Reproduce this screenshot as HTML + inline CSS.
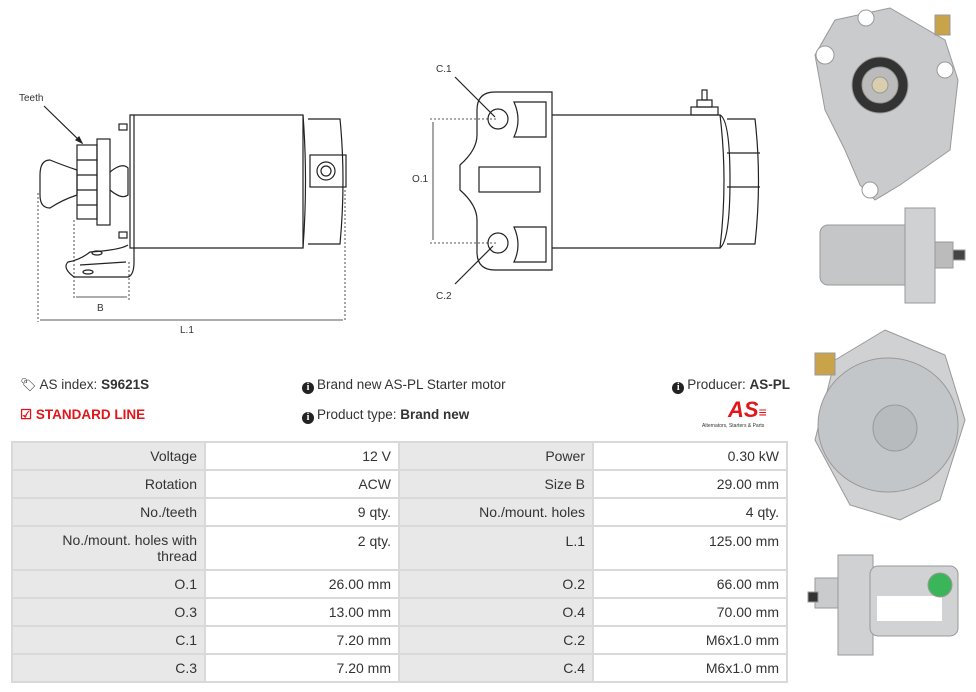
<!DOCTYPE html>
<html><head><meta charset="utf-8"><style>
body{margin:0;width:976px;height:692px;background:#fff;font-family:"Liberation Sans",sans-serif;position:relative;overflow:hidden;color:#333}
.t{position:absolute;font-size:13.5px;white-space:nowrap}
.i{display:inline-block;width:12px;height:12px;border-radius:50%;background:#222;color:#fff;font-size:10px;font-weight:bold;text-align:center;line-height:12px;font-family:"Liberation Serif",serif;vertical-align:-1px;margin-right:3px}
table{position:absolute;left:11px;top:441px;border-collapse:collapse;font-size:14px}
td{border:2px solid #d9d9d9;text-align:right;padding:0 7px;vertical-align:middle;height:24px;color:#333}
td.l{background:#e8e8e8}
td.v{background:#fff}
</style></head><body>
<svg width="976" height="692" style="position:absolute;left:0;top:0" fill="none" stroke="#222" stroke-width="1.2" font-family="Liberation Sans,sans-serif">
<text x="19" y="101" font-size="10" fill="#333" stroke="none">Teeth</text>
<line x1="44" y1="106" x2="82" y2="143"/><polygon points="82,143 76,140 79,137" fill="#222"/>
<path d="M130,115 H303 V248 H130 Z"/>
<path d="M303,115 Q308,180 303,248"/>
<path d="M308,119 H340 Q346,180 340,244 H308"/>
<rect x="310" y="155" width="36" height="32"/>
<circle cx="326" cy="171" r="9"/><circle cx="326" cy="171" r="5"/>
<rect x="97" y="139" width="13" height="86"/>
<rect x="77" y="145" width="20" height="74"/>
<line x1="77" y1="160" x2="97" y2="160"/><line x1="77" y1="175" x2="97" y2="175"/><line x1="77" y1="190" x2="97" y2="190"/><line x1="77" y1="205" x2="97" y2="205"/>
<path d="M40,175 Q40,160 50,160 Q62,165 77,170 V195 Q62,200 50,208 Q40,208 40,195 Z"/>
<path d="M110,172 Q122,162 128,168 V195 Q122,200 110,190"/>
<rect x="119" y="124" width="8" height="6"/><rect x="119" y="232" width="8" height="6"/>
<path d="M128,245 Q120,250 90,252 Q80,260 68,262 Q62,268 74,277 H128 Q134,275 134,262 V115"/>
<ellipse cx="97" cy="253" rx="5" ry="2"/><ellipse cx="88" cy="272" rx="5" ry="2"/>
<line x1="80" y1="265" x2="126" y2="262"/>
<g stroke-dasharray="2,2" stroke-width="0.8"><line x1="38" y1="193" x2="38" y2="322"/><line x1="74" y1="220" x2="74" y2="300"/><line x1="129" y1="262" x2="129" y2="300"/><line x1="345" y1="190" x2="345" y2="322"/></g>
<line x1="76" y1="297" x2="127" y2="297" stroke-width="0.8"/>
<line x1="40" y1="320" x2="343" y2="320" stroke-width="0.8"/>
<text x="97" y="311" font-size="10" fill="#333" stroke="none">B</text>
<text x="180" y="333" font-size="10" fill="#333" stroke="none">L.1</text>
<text x="436" y="72" font-size="10" fill="#333" stroke="none">C.1</text>
<text x="436" y="299" font-size="10" fill="#333" stroke="none">C.2</text>
<text x="412" y="182" font-size="10" fill="#333" stroke="none">O.1</text>
<line x1="455" y1="77" x2="495" y2="117"/><line x1="455" y1="284" x2="493" y2="246"/>
<path d="M495,92 H552 V270 H495 Q477,270 477,252 V220 Q477,205 460,190 V165 Q477,150 477,135 V110 Q477,92 495,92 Z"/>
<circle cx="498" cy="119" r="10"/><circle cx="498" cy="243" r="10"/>
<path d="M514,102 H546 V137 H514 Q522,120 514,102 Z"/>
<path d="M514,227 H546 V262 H514 Q522,245 514,227 Z"/>
<rect x="479" y="167" width="61" height="25"/>
<path d="M552,115 H720 Q728,180 720,248 H552"/>
<path d="M720,115 Q730,120 730,180 Q730,240 720,248"/>
<path d="M727,119 H755 Q762,180 755,244 H727"/>
<line x1="727" y1="153" x2="760" y2="153"/><line x1="727" y1="187" x2="760" y2="187"/>
<rect x="691" y="107" width="27" height="8"/><rect x="697" y="100" width="15" height="7"/><rect x="702" y="90" width="5" height="10"/>
<g stroke-dasharray="2,2" stroke-width="0.8"><line x1="430" y1="119" x2="497" y2="119"/><line x1="430" y1="243" x2="497" y2="243"/></g>
<line x1="433" y1="122" x2="433" y2="240" stroke-width="0.8"/>
<g stroke="#999" stroke-width="1">
<path d="M835,20 L890,8 L945,40 L958,80 L950,150 L900,185 L875,200 L860,185 L845,150 L825,110 L815,55 Z" fill="#c9cbcd"/>
<circle cx="825" cy="55" r="9" fill="#fff"/><circle cx="866" cy="18" r="8" fill="#fff"/><circle cx="945" cy="70" r="8" fill="#fff"/><circle cx="870" cy="190" r="8" fill="#fff"/>
<circle cx="880" cy="85" r="28" fill="#333"/><circle cx="880" cy="85" r="18" fill="#bbb"/><circle cx="880" cy="85" r="8" fill="#d9cfae"/>
<rect x="935" y="15" width="15" height="20" fill="#c9a34a"/>
<rect x="820" y="225" width="95" height="60" rx="8" fill="#c4c6c8"/>
<rect x="905" y="208" width="30" height="95" fill="#cfd1d3"/>
<rect x="935" y="242" width="18" height="26" fill="#bbb"/><rect x="953" y="250" width="12" height="10" fill="#444"/>
<path d="M835,360 L885,330 L945,355 L965,420 L940,500 L900,520 L850,505 L815,440 Z" fill="#cfd1d3"/>
<ellipse cx="888" cy="425" rx="70" ry="67" fill="#c3c6c9"/><ellipse cx="895" cy="428" rx="22" ry="23" fill="#b8bbbe"/>
<rect x="815" y="353" width="20" height="22" fill="#c9a34a"/>
<rect x="815" y="578" width="25" height="30" fill="#c9cbcd"/>
<rect x="838" y="555" width="35" height="100" fill="#cfd1d3"/>
<rect x="870" y="566" width="88" height="70" rx="8" fill="#d0d2d4"/>
<rect x="877" y="596" width="65" height="25" fill="#fff" stroke="none"/>
<circle cx="940" cy="585" r="12" fill="#3bb55a"/>
<rect x="808" y="592" width="10" height="10" fill="#333"/>
</g>
</svg>
<div class="t" style="left:20px;top:377px"><span style="font-size:13px">&#x1F3F7;&#xFE0E;</span> AS index: <b>S9621S</b></div>
<div class="t" style="left:20px;top:407px;color:#e3151a;font-weight:bold">&#9745; STANDARD LINE</div>
<div class="t" style="left:302px;top:377px"><span class="i">i</span>Brand new AS-PL Starter motor</div>
<div class="t" style="left:302px;top:407px"><span class="i">i</span>Product type: <b>Brand new</b></div>
<div class="t" style="right:186px;top:377px"><span class="i">i</span>Producer: <b>AS-PL</b></div>
<div class="t" style="left:728px;top:397px;color:#e3151a;font-weight:bold;font-style:italic;font-size:22px">AS<span style="font-size:14px">&#8801;</span></div>
<div class="t" style="left:702px;top:423px;font-size:5px">Alternators, Starters &amp; Parts</div>
<table>
<tr style="height:28px"><td class="l" style="width:177px">Voltage</td><td class="v" style="width:178px">12 V</td><td class="l" style="width:178px">Power</td><td class="v" style="width:178px">0.30 kW</td></tr>
<tr style="height:28px"><td class="l">Rotation</td><td class="v">ACW</td><td class="l">Size B</td><td class="v">29.00 mm</td></tr>
<tr style="height:28px"><td class="l">No./teeth</td><td class="v">9 qty.</td><td class="l">No./mount. holes</td><td class="v">4 qty.</td></tr>
<tr style="height:44px"><td class="l">No./mount. holes with<br>thread</td><td class="v" style="vertical-align:top;padding-top:6px">2 qty.</td><td class="l" style="vertical-align:top;padding-top:6px">L.1</td><td class="v" style="vertical-align:top;padding-top:6px">125.00 mm</td></tr>
<tr style="height:28px"><td class="l">O.1</td><td class="v">26.00 mm</td><td class="l">O.2</td><td class="v">66.00 mm</td></tr>
<tr style="height:28px"><td class="l">O.3</td><td class="v">13.00 mm</td><td class="l">O.4</td><td class="v">70.00 mm</td></tr>
<tr style="height:28px"><td class="l">C.1</td><td class="v">7.20 mm</td><td class="l">C.2</td><td class="v">M6x1.0 mm</td></tr>
<tr style="height:28px"><td class="l">C.3</td><td class="v">7.20 mm</td><td class="l">C.4</td><td class="v">M6x1.0 mm</td></tr>
</table>
</body></html>
